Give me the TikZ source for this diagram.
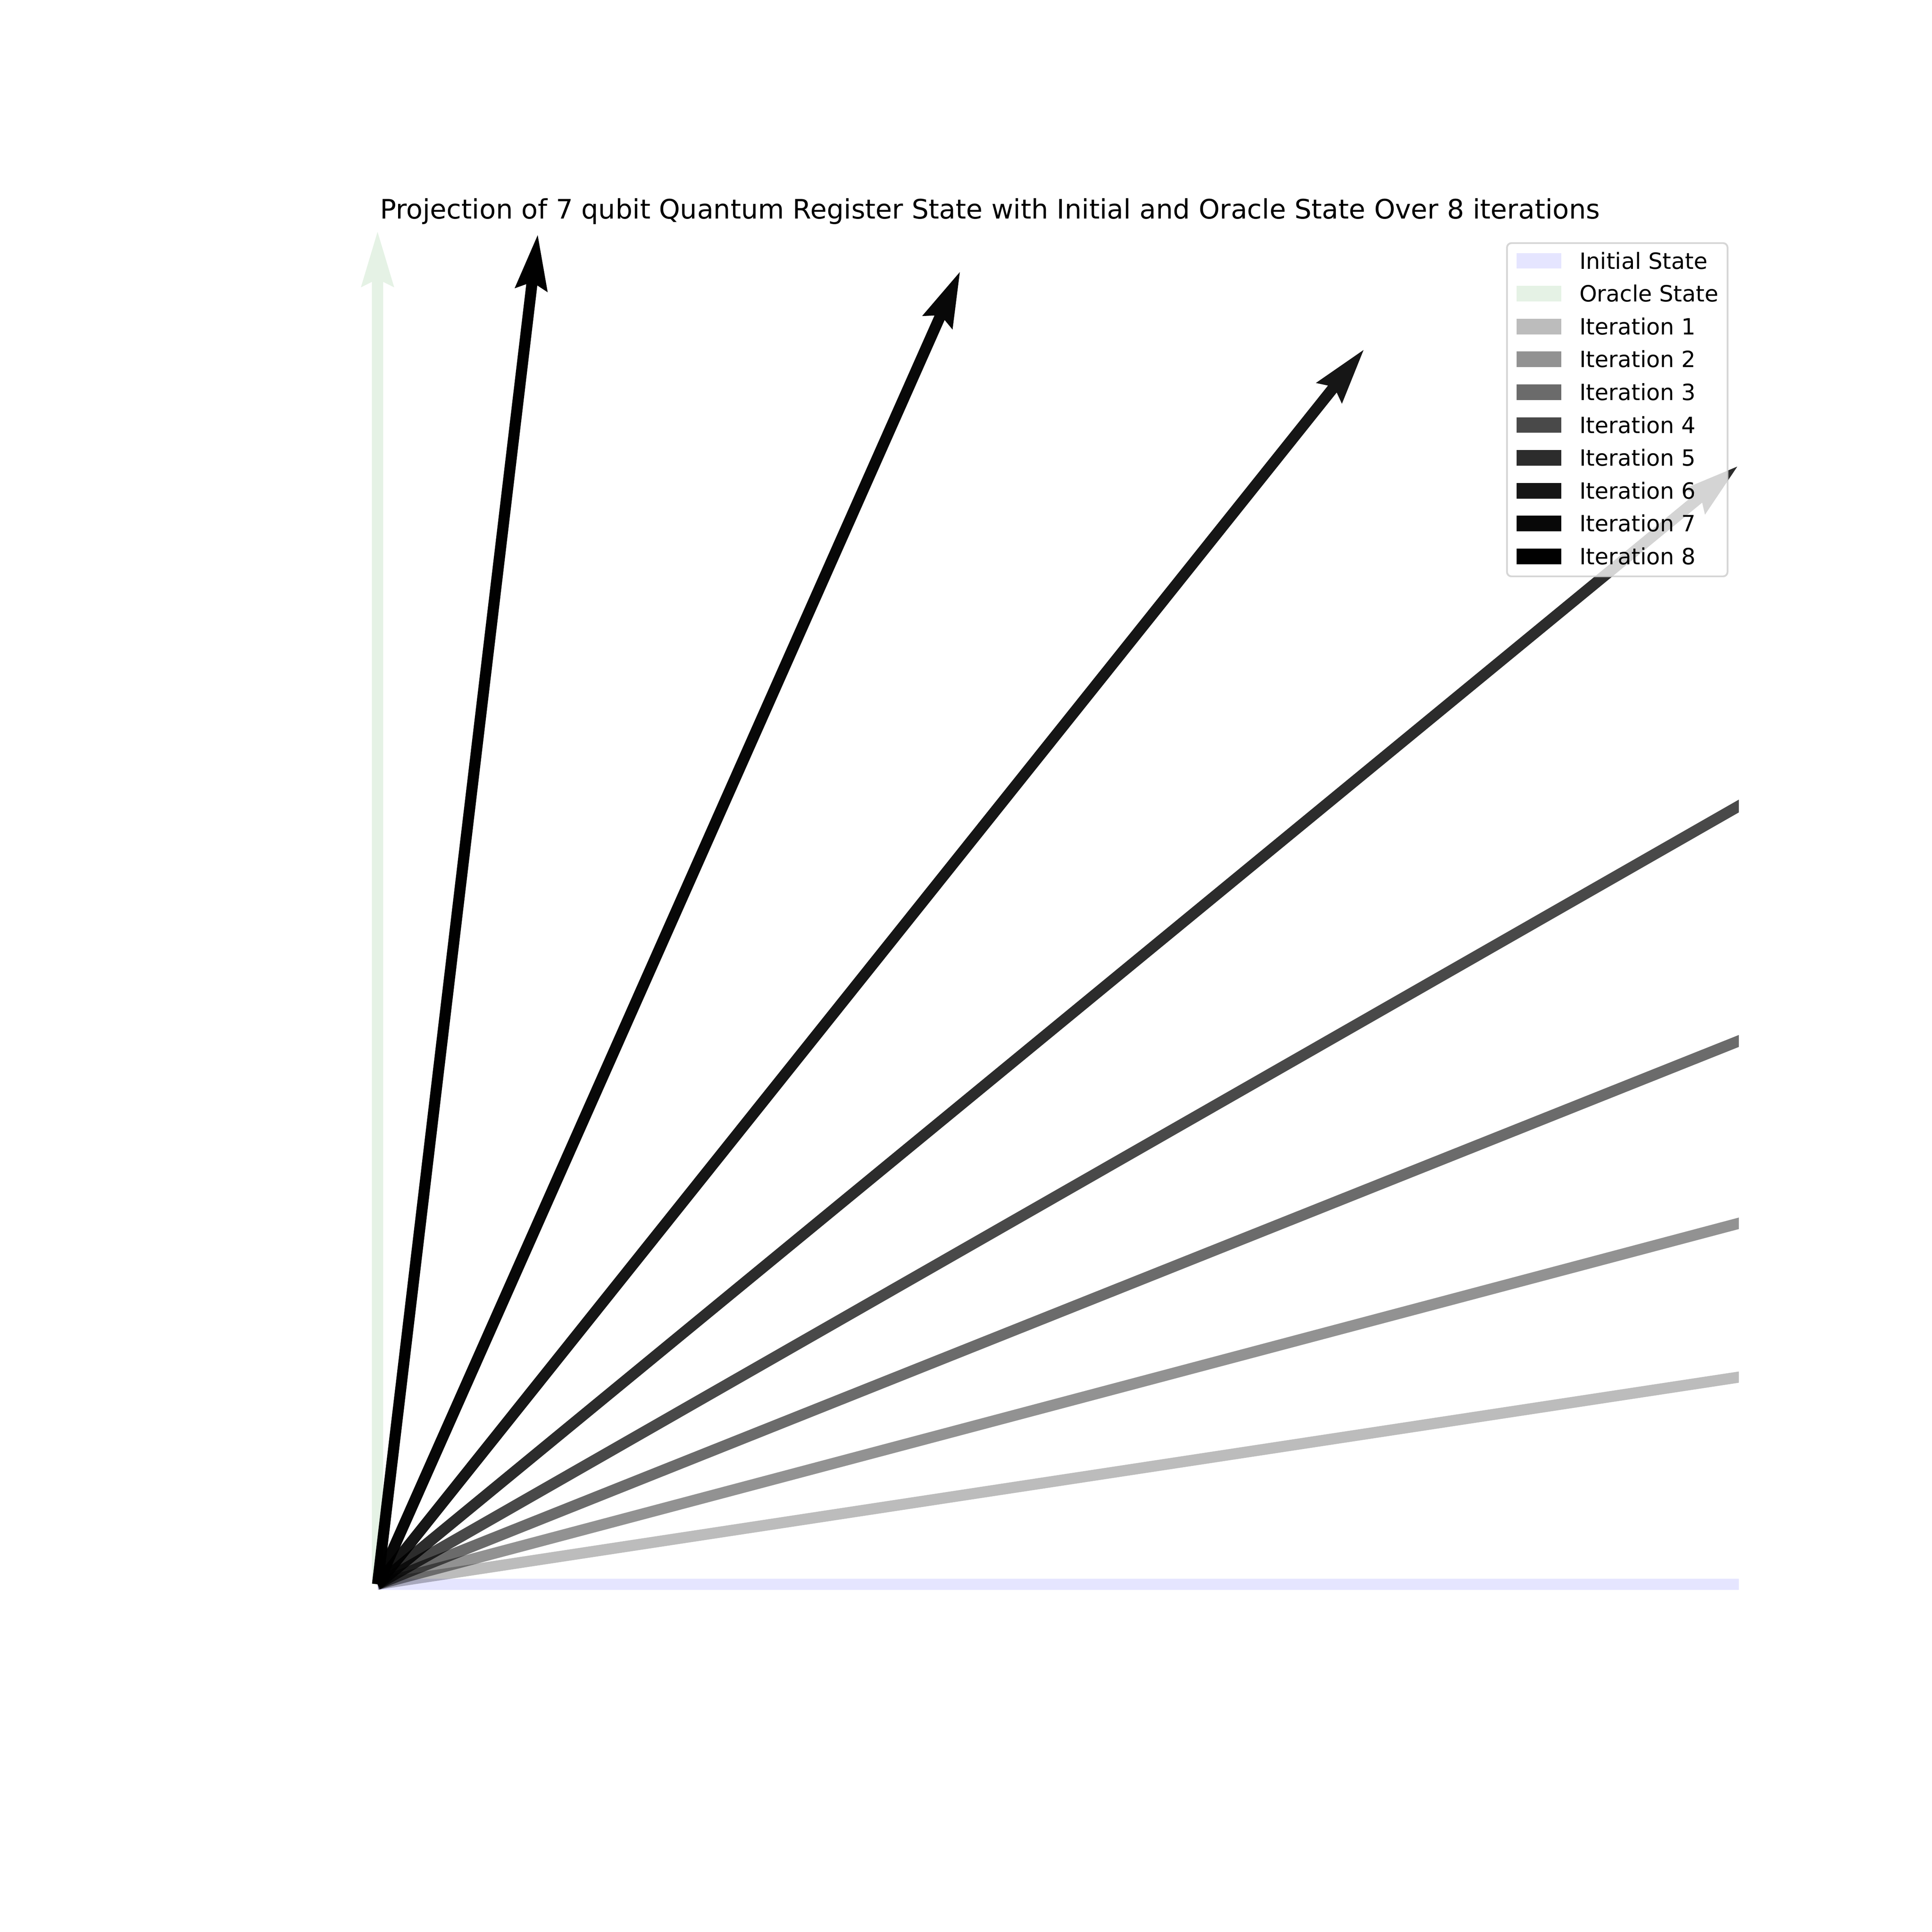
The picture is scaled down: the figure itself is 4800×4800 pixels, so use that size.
\documentclass[tikz,border=0pt]{standalone}
\usepackage{fontspec}
\setmainfont{DejaVu Sans}
\definecolor{initc}{RGB}{0,0,255}
\definecolor{orac}{RGB}{0,128,0}
\definecolor{legedge}{RGB}{204,204,204}
\tikzset{
  titletext/.style={anchor=base, inner sep=0pt, font=\fontsize{12bp}{14bp}\selectfont},
  legtext/.style={anchor=base west, inner sep=0pt, font=\fontsize{10bp}{12bp}\selectfont},
  legframe/.style={draw=legedge, line width=0.8bp, fill=white, fill opacity=0.8, draw opacity=0.8, rounded corners=2bp},
}
% quiver arrow: angle, length (px), colour, opacity
\newcommand\qarrow[4]{%
  \fill[#3, fill opacity=#4, shift={(938,3936)}, rotate=#1]
    (0,-13.8) -- ({#2-124.2},-13.8) -- ({#2-138},-41.4) -- (#2,0)
    -- ({#2-138},41.4) -- ({#2-124.2},13.8) -- (0,13.8) -- cycle;}
\begin{document}
\begin{tikzpicture}[x=0.18bp, y=-0.18bp]
\useasboundingbox (0,0) rectangle (4800,4800);
\fill[white] (0,0) rectangle (4800,4800);
\coordinate (O) at (938,3936);
\begin{scope}
  \clip (600,576) rectangle (4320,4272);
  \qarrow{0}{6003}{initc}{0.1}
  \qarrow{90}{3360}{orac}{0.1}
  \qarrow{8.652}{5859.4}{black}{0.2624}
  \qarrow{14.851}{5612.4}{black}{0.4282}
  \qarrow{21.758}{5262.5}{black}{0.5806}
  \qarrow{29.757}{4836.7}{black}{0.7147}
  \qarrow{39.42}{4373.2}{black}{0.8266}
  \qarrow{51.38}{3925.1}{black}{0.9130}
  \qarrow{66.07}{3566.8}{black}{0.9705}
  \qarrow{83.23}{3375.4}{black}{0.9978}
\end{scope}
\node[titletext] (title) at (2460,543) {Projection of 7 qubit Quantum Register State with Initial and Oracle State Over 8 iterations};
% legend
\path[legframe] (3744,604) rectangle (4292,1432);
\foreach \i/\lab/\col/\op in {1/Initial State/initc/0.1, 2/Oracle State/orac/0.1,
    3/Iteration 1/black/0.2624, 4/Iteration 2/black/0.4282, 5/Iteration 3/black/0.5806,
    6/Iteration 4/black/0.7147, 7/Iteration 5/black/0.8266, 8/Iteration 6/black/0.9130,
    9/Iteration 7/black/0.9705, 10/Iteration 8/black/0.9978}{
  \pgfmathsetmacro\ry{648+81.6*(\i-1)}
  \fill[\col, fill opacity=\op] (3768,{\ry-19.45}) rectangle (3879,{\ry+19.45});
  \node[legtext] (leg\i) at (3923,{\ry+20}) {\lab};
}
\end{tikzpicture}
\end{document}
